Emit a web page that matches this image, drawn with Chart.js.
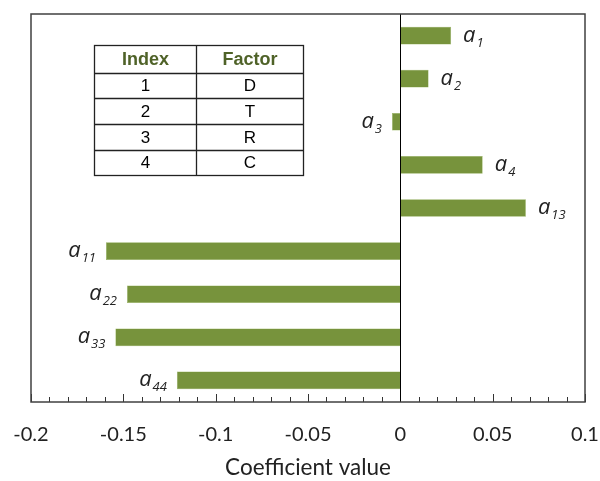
<!DOCTYPE html>
<html>
<head>
<meta charset="utf-8">
<script src="https://cdn.jsdelivr.net/npm/chart.js@4/dist/chart.umd.min.js"></script>
<style>
  html, body { margin: 0; padding: 0; background: #fff; }
  #wrap { width: 600px; height: 481px; position: relative; }
</style>
</head>
<body>
<div id="wrap"><canvas id="myChart" width="600" height="481"></canvas></div>
<script>
// coefficient names, drawn as a + subscript
const categories = ['1', '2', '3', '4', '13', '11', '22', '33', '44'];
const values = [0.0275, 0.0153, -0.0045, 0.0446, 0.068, -0.1594, -0.148, -0.1543, -0.121];
const xTicks = [-0.2, -0.15, -0.1, -0.05, 0, 0.05, 0.1];
// inset table
const tableHead = ['Index', 'Factor'];
const tableIndex = ['1', '2', '3', '4'];
const tableFactor = ['D', 'T', 'R', 'C'];

const BAR = '#77933C';

const framePlugin = {
  id: 'frame',
  afterDatasetsDraw(chart) {
    const { ctx, chartArea: a, scales: { x } } = chart;
    ctx.save();
    // minor/major ticks pointing up into the plot
    ctx.strokeStyle = '#333';
    ctx.lineWidth = 1;
    for (let i = -20; i <= 10; i++) {
      const px = Math.round(x.getPixelForValue(i / 100)) + 0.5;
      const len = i % 5 === 0 ? 8 : 5;
      ctx.beginPath();
      ctx.moveTo(px, a.bottom);
      ctx.lineTo(px, a.bottom - len);
      ctx.stroke();
    }
    // zero line
    const zx = Math.round(x.getPixelForValue(0)) + 0.5;
    ctx.strokeStyle = '#000';
    ctx.beginPath();
    ctx.moveTo(zx, a.top);
    ctx.lineTo(zx, a.bottom);
    ctx.stroke();
    // box
    ctx.strokeStyle = '#404040';
    ctx.lineWidth = 1.5;
    ctx.strokeRect(a.left, a.top, a.right - a.left, a.bottom - a.top);

    // coefficient labels
    const meta = chart.getDatasetMeta(0);
    meta.data.forEach((el, i) => {
      const big = 'italic 22px "Open Sans"';
      const small = 'italic 13px "Open Sans"';
      ctx.font = big;
      const wa = ctx.measureText('a').width;
      ctx.font = small;
      const ws = ctx.measureText(categories[i]).width;
      const base = el.y + 6;
      let sx = values[i] >= 0 ? el.x + 12 : el.x - 10 - wa - ws - 1;
      ctx.fillStyle = '#222';
      ctx.textAlign = 'left';
      ctx.textBaseline = 'alphabetic';
      ctx.font = big;
      ctx.fillText('a', sx, base);
      ctx.font = small;
      ctx.fillText(categories[i], sx + wa + 1, base + 5);
    });

    // inset table
    const tx = 94.5, ty = 45.5, colW = [102, 107], headH = 27, rowH = 25.75;
    const totalW = colW[0] + colW[1];
    const totalH = headH + rowH * tableIndex.length;
    ctx.fillStyle = '#fff';
    ctx.fillRect(tx, ty, totalW, totalH);
    ctx.strokeStyle = '#222';
    ctx.lineWidth = 1.3;
    ctx.strokeRect(tx, ty, totalW, totalH);
    ctx.beginPath();
    ctx.moveTo(tx + colW[0], ty);
    ctx.lineTo(tx + colW[0], ty + totalH);
    for (let r = 0; r < tableIndex.length; r++) {
      const yy = Math.round(ty + headH + r * rowH) + 0.5;
      ctx.moveTo(tx, yy);
      ctx.lineTo(tx + totalW, yy);
    }
    ctx.stroke();
    ctx.textAlign = 'center';
    ctx.textBaseline = 'middle';
    ctx.font = 'bold 18px "Liberation Sans"';
    ctx.fillStyle = '#4F6228';
    ctx.fillText(tableHead[0], tx + colW[0] / 2, ty + headH / 2 + 1);
    ctx.fillText(tableHead[1], tx + colW[0] + colW[1] / 2, ty + headH / 2 + 1);
    ctx.font = '17px "Liberation Sans"';
    ctx.fillStyle = '#000';
    for (let r = 0; r < tableIndex.length; r++) {
      const cy = ty + headH + r * rowH + rowH / 2 + 1;
      ctx.fillText(tableIndex[r], tx + colW[0] / 2, cy);
      ctx.fillText(tableFactor[r], tx + colW[0] + colW[1] / 2, cy);
    }
    ctx.restore();
  }
};

const ctx = document.getElementById('myChart').getContext('2d');
new Chart(ctx, {
  type: 'bar',
  data: {
    labels: categories.map(c => 'a' + c),
    datasets: [{
      data: values,
      backgroundColor: BAR,
      borderColor: '#8FAE52',
      borderWidth: 0.5,
      barPercentage: 0.41,
      categoryPercentage: 1
    }]
  },
  options: {
    indexAxis: 'y',
    responsive: false,
    animation: false,
    layout: { padding: { left: 31, right: 15, top: 14, bottom: 0 } },
    plugins: { legend: { display: false }, tooltip: { enabled: false } },
    scales: {
      y: { display: false },
      x: {
        min: -0.2,
        max: 0.1,
        afterBuildTicks: s => { s.ticks = xTicks.map(v => ({ value: v })); },
        afterFit: s => { s.height = 79; s.paddingLeft = 0; s.paddingRight = 0; },
        grid: { display: false, drawTicks: false },
        border: { display: false },
        ticks: {
          padding: 21,
          color: '#222',
          font: { family: 'Lato', size: 20 },
          maxRotation: 0,
          autoSkip: false,
          callback: v => String(Math.round(v * 100) / 100)
        },
        title: {
          display: true,
          text: 'Coefficient value',
          color: '#222',
          font: { family: 'Lato', size: 22.5 },
          padding: { top: 0, bottom: 0 }
        }
      }
    }
  },
  plugins: [framePlugin]
});
</script>
</body>
</html>
